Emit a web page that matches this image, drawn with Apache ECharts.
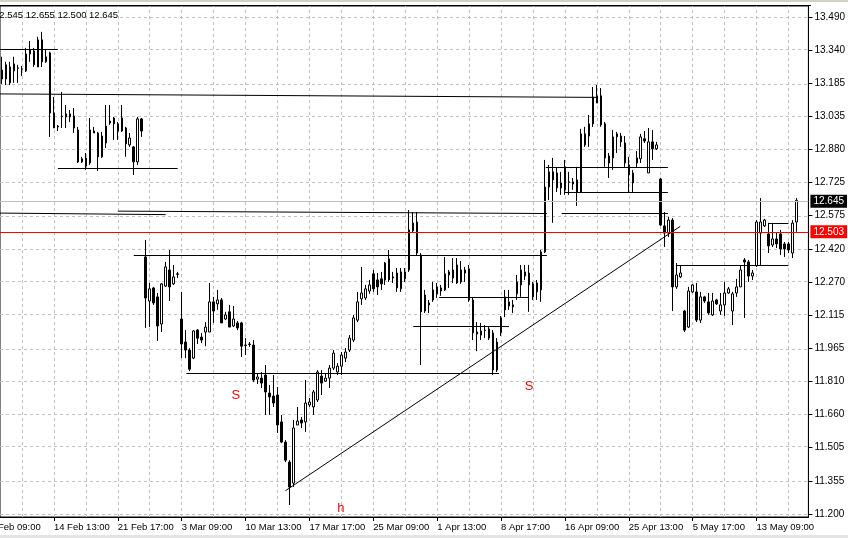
<!DOCTYPE html>
<html><head><meta charset="utf-8">
<script src="https://cdn.jsdelivr.net/npm/echarts@6/dist/echarts.min.js"></script>
<style>html,body{margin:0;padding:0;background:#fff;overflow:hidden}#c{width:848px;height:538px}</style>
</head><body><div id="c"></div>
<script>
// ---- data (H4 bars, left to right) ----
const open = [13.245,13.269,13.259,13.241,13.255,13.250,13.241,13.319,13.333,13.259,13.384,13.283,13.324,13.047,12.987,13.033,13.029,13.029,13.033,12.969,12.836,12.803,12.817,12.964,12.955,12.845,12.909,13.010,13.024,12.997,13.024,12.978,12.900,12.891,12.822,13.020,
12.384,12.181,12.241,12.200,12.075,12.250,12.324,12.260,12.306,
12.098,11.992,11.955,11.918,12.047,12.015,12.038,12.038,12.177,12.168,
12.186,12.098,12.131,12.066,12.080,12.080,11.978,11.983,11.978,11.821,
11.826,11.840,11.757,11.743,11.748,11.624,11.531,11.439,11.342,11.610,
11.633,11.624,11.702,11.693,11.725,11.835,11.812,11.826,11.872,11.854,
11.881,11.918,11.955,12.001,12.093,12.191,12.195,12.227,12.306,12.278,
12.283,12.278,12.375,12.292,12.310,12.237,12.315,12.324,12.504,12.545,
12.393,12.209,12.172,12.186,12.246,12.241,12.232,12.301,12.324,12.347,
12.269,12.324,12.329,12.186,12.038,12.024,12.047,12.010,12.034,11.863,
12.034,12.200,12.177,12.163,12.214,12.255,12.296,12.310,12.260,12.223,
12.232,12.407,12.706,12.776,12.771,12.725,12.799,12.730,12.720,12.739,
12.683,12.900,12.941,12.997,13.093,13.126,12.997,12.849,12.840,12.937,
12.941,12.909,12.808,12.771,12.840,12.836,12.928,12.771,12.914,12.882,
12.743,12.527,12.494,12.554,12.246,12.292,12.135,12.061,12.223,12.223,
12.093,12.200,12.177,12.117,12.186,12.135,12.163,12.218,12.135,12.218,
12.246,12.370,12.361,12.296,12.343,12.494,12.527,12.490,12.439,12.467,
12.490,12.444,12.444,12.402,12.545];
const close = [13.204,13.204,13.186,13.273,13.253,13.249,13.319,13.338,13.269,13.384,13.283,13.306,13.047,12.978,12.983,13.031,13.043,13.043,12.978,12.822,12.822,12.840,12.969,12.955,12.845,12.941,12.987,13.001,12.997,12.964,12.964,12.905,12.932,12.822,13.020,12.964,
12.195,12.237,12.172,12.066,12.260,12.338,12.246,12.292,12.304,
11.983,11.955,11.867,12.043,12.010,12.001,12.061,12.177,12.135,12.186,
12.080,12.117,12.061,12.098,12.057,11.973,11.976,11.981,11.817,11.831,
11.803,11.762,11.739,11.711,11.610,11.531,11.448,11.324,11.596,11.628,
11.619,11.711,11.716,11.762,11.854,11.803,11.826,11.872,11.941,11.881,
11.932,11.946,12.010,12.103,12.177,12.218,12.237,12.255,12.237,12.246,
12.260,12.356,12.278,12.287,12.241,12.315,12.283,12.508,12.540,12.402,
12.131,12.135,12.163,12.232,12.214,12.227,12.306,12.315,12.287,12.264,
12.324,12.310,12.186,12.034,12.029,12.043,12.045,12.052,11.863,11.992,
12.103,12.140,12.158,12.154,12.269,12.324,12.315,12.255,12.200,12.264,
12.407,12.706,12.776,12.739,12.702,12.702,12.693,12.728,12.730,12.683,
12.951,12.951,12.997,13.121,13.126,12.992,12.840,12.817,12.937,12.951,
12.914,12.817,12.762,12.725,12.817,12.937,12.918,12.914,12.882,12.900,
12.531,12.494,12.554,12.246,12.301,12.310,12.047,12.227,12.255,12.093,
12.200,12.181,12.126,12.181,12.168,12.163,12.218,12.237,12.214,12.246,
12.324,12.361,12.296,12.310,12.545,12.545,12.554,12.435,12.467,12.444,
12.421,12.421,12.416,12.540,12.645];
const low = [13.181,13.176,13.176,13.186,13.186,13.218,13.236,13.283,13.259,13.259,13.259,13.278,12.937,12.978,12.964,12.978,12.978,13.006,12.955,12.817,12.817,12.785,12.808,12.955,12.780,12.840,12.886,12.992,12.923,12.923,12.960,12.845,12.891,12.762,12.808,12.937,
12.057,12.061,12.163,11.997,12.038,12.246,12.181,12.255,12.287,
11.918,11.918,11.858,11.913,11.983,11.987,11.973,12.038,12.080,12.140,
12.080,12.093,12.061,12.061,12.047,11.923,11.932,11.969,11.808,11.799,
11.780,11.656,11.656,11.693,11.573,11.527,11.439,11.241,11.324,11.610,
11.596,11.578,11.693,11.656,11.716,11.748,11.808,11.780,11.863,11.840,
11.840,11.900,11.946,11.992,12.084,12.163,12.186,12.214,12.223,12.209,
12.232,12.255,12.269,12.264,12.223,12.223,12.269,12.315,12.494,12.393,
11.886,12.126,12.126,12.177,12.195,12.205,12.227,12.241,12.264,12.260,
12.260,12.269,12.177,12.001,11.950,12.001,12.010,12.001,11.840,11.854,
12.020,12.107,12.140,12.126,12.186,12.200,12.278,12.131,12.186,12.186,
12.177,12.402,12.646,12.541,12.683,12.670,12.670,12.670,12.693,12.619,
12.679,12.891,12.891,12.983,13.093,12.983,12.799,12.748,12.785,12.863,
12.891,12.799,12.683,12.683,12.794,12.817,12.909,12.771,12.831,12.877,
12.527,12.430,12.476,12.135,12.237,12.287,12.038,12.057,12.218,12.084,
12.080,12.172,12.117,12.112,12.163,12.117,12.112,12.214,12.070,12.200,
12.246,12.103,12.269,12.278,12.338,12.347,12.522,12.402,12.430,12.425,
12.393,12.384,12.402,12.379,12.500];
const high = [13.306,13.283,13.283,13.306,13.269,13.264,13.347,13.379,13.347,13.398,13.421,13.342,13.329,13.121,12.992,13.144,13.084,13.061,13.070,12.983,12.845,12.863,13.024,12.983,12.960,12.960,13.084,13.084,13.029,13.006,13.084,12.983,12.955,12.895,13.029,13.024,
12.462,12.264,12.246,12.218,12.264,12.361,12.416,12.347,12.315,
12.223,12.047,11.964,12.047,12.052,12.033,12.084,12.264,12.200,12.232,
12.195,12.131,12.163,12.158,12.089,12.085,12.010,11.992,12.001,11.849,
11.854,11.886,11.794,11.840,11.785,11.656,11.540,11.448,11.633,11.693,
11.647,11.817,11.734,11.771,11.863,11.863,11.849,11.886,11.955,11.895,
11.946,11.964,12.024,12.117,12.223,12.338,12.255,12.278,12.324,12.310,
12.315,12.361,12.416,12.315,12.333,12.333,12.333,12.600,12.591,12.591,
12.402,12.232,12.186,12.269,12.264,12.255,12.384,12.324,12.379,12.379,
12.365,12.338,12.347,12.195,12.084,12.080,12.070,12.066,12.047,12.010,
12.112,12.232,12.232,12.186,12.301,12.347,12.347,12.347,12.269,12.278,
12.416,12.831,12.808,12.840,12.794,12.776,12.831,12.776,12.748,12.799,
12.974,12.983,13.038,13.167,13.176,13.162,13.006,12.863,12.969,12.960,
12.955,12.941,12.845,12.785,12.872,12.951,12.964,12.978,12.969,12.914,
12.748,12.591,12.568,12.563,12.356,12.347,12.140,12.246,12.260,12.264,
12.223,12.205,12.218,12.218,12.191,12.218,12.269,12.246,12.223,12.283,
12.347,12.379,12.370,12.324,12.554,12.655,12.559,12.541,12.541,12.499,
12.508,12.453,12.453,12.554,12.655];

// x-axis tick labels and the bar they sit on (bar 0 = first visible candle)
const xTickBars = [-3,13,29,45,61,77,93,109,125,141,157,173,189];
const xTickLabels = ['7 Feb 09:00','14 Feb 13:00','21 Feb 17:00','3 Mar 09:00','10 Mar 13:00','17 Mar 17:00','25 Mar 09:00','1 Apr 13:00','8 Apr 17:00','16 Apr 09:00','25 Apr 13:00','5 May 17:00','13 May 09:00'];
// y-axis tick labels, bottom to top
const yTickLabels = ['11.200','11.355','11.505','11.660','11.810','11.965','12.115','12.270','12.420','12.575','12.725','12.880','13.035','13.185','13.340','13.490'];
const bidPrice = 12.645;
const levelPrice = 12.503;
// drawn objects: [startBar, startPrice, endBar, endPrice]
const drawnLines = [
 [-0.5,13.341,14,13.341],
 [-0.5,13.135,148.8,13.119],
 [14,12.793,44,12.793],
 [-0.5,12.586,41,12.579],
 [29,12.595,136.5,12.584],
 [140.2,12.585,166.8,12.585],
 [33,12.391,136.5,12.391],
 [46.2,11.848,124.5,11.848],
 [109.5,12.197,132,12.197],
 [103,12.066,127,12.066],
 [136.2,12.796,166.8,12.796],
 [141,12.682,166.8,12.682],
 [192,12.540,197,12.540],
 [168.8,12.345,197,12.345],
 [71,11.307,169.9,12.525]
];
const notes = [['S',58.6,11.748],['S',132,11.789],['h',84.9,11.227]];

// ---- build ----
const X_MIN = -0.5, X_MAX = 202;
const yMin = 11.186, yMax = 13.540;
const yStep = (13.490 - 11.200) / (yTickLabels.length - 1);
const yTickValues = yTickLabels.map((t, k) => 11.2 + k * yStep);
const candles = open.map((o, i) => [i, o, close[i], low[i], high[i]]);
const tickMap = {};
xTickBars.forEach((b, j) => tickMap[b] = xTickLabels[j]);
const visibleTicks = xTickBars.filter(b => b >= X_MIN && b <= X_MAX);
const gridBars = [];
for (let b = 5; b <= X_MAX; b += 8) gridBars.push(b);
const FONT = 'Liberation Sans';
const last = open.length - 1;

const chart = echarts.init(document.getElementById('c'), null, {renderer: 'canvas'});
chart.setOption({
  animation: false,
  backgroundColor: '#ffffff',
  grid: {left: 0, right: 38, top: 6, bottom: 21, show: true, borderColor: '#000', borderWidth: 1, backgroundColor: 'transparent'},
  xAxis: {
    type: 'value', min: X_MIN, max: X_MAX,
    axisLine: {show: true, onZero: false, lineStyle: {color: '#000', width: 1}},
    axisTick: {show: true, length: 4, customValues: visibleTicks, lineStyle: {color: '#000'}},
    axisLabel: {show: true, customValues: visibleTicks,
      formatter: (v) => tickMap[Math.round(v)] || '', align: 'left', margin: 5,
      color: '#000', fontFamily: FONT, fontSize: 9.5},
    splitLine: {show: false}
  },
  yAxis: {
    type: 'value', position: 'right', min: yMin, max: yMax,
    axisLine: {show: true, onZero: false, lineStyle: {color: '#000', width: 1}},
    axisTick: {show: true, length: 4, customValues: yTickValues, lineStyle: {color: '#000'}},
    axisLabel: {show: true, customValues: yTickValues, margin: 6,
      formatter: (v) => yTickLabels[Math.round((v - 11.2) / yStep)],
      color: '#000', fontFamily: FONT, fontSize: 10},
    splitLine: {show: false}
  },
  series: [
    {type: 'line', data: [], z: 1, silent: true,
     markLine: {silent: true, symbol: ['none','none'], animation: false, z: 1,
       label: {show: false},
       lineStyle: {color: '#c0c0c0', type: [3,3], width: 1},
       data: yTickValues.map(v => ({yAxis: v})).concat(gridBars.map(b => ({xAxis: b})))}},
    {type: 'candlestick', data: candles, encode: {x: 0, y: [1,2,3,4]}, z: 2, barWidth: 2,
     itemStyle: {color: '#ffffff', color0: '#000000', borderColor: '#000000', borderColor0: '#000000', borderWidth: 1},
     markPoint: {symbol: 'rect', symbolSize: 1, itemStyle: {color: 'rgba(0,0,0,0)'}, animation: false,
       label: {show: true, position: 'inside', formatter: '{b}', color: '#ff0000', fontFamily: FONT, fontSize: 13},
       data: notes.map(n => ({name: n[0], coord: [n[1], n[2]]}))}},
    {type: 'line', data: [], z: 3, silent: true,
     markLine: {silent: true, symbol: ['none','none'], animation: false, z: 5,
       label: {show: false},
       lineStyle: {color: '#000', type: 'solid', width: 1},
       data: drawnLines.map(l => [{coord: [l[0], l[1]]}, {coord: [l[2], l[3]]}]).concat([
         {yAxis: bidPrice, lineStyle: {color: '#c0c0c0', type: 'solid', width: 1},
          label: {show: true, position: 'end', distance: 2, formatter: bidPrice.toFixed(3), backgroundColor: '#000', color: '#fff', padding: [2,3,1,3], fontFamily: FONT, fontSize: 10}},
         {yAxis: levelPrice, lineStyle: {color: '#ff0000', type: 'solid', width: 1},
          label: {show: true, position: 'end', distance: 2, formatter: levelPrice.toFixed(3), backgroundColor: '#ff0000', color: '#fff', padding: [2,3,1,3], fontFamily: FONT, fontSize: 10}}
       ])}}
  ]
});

// labels that sit left of the visible range, placed through the axis scale
const gr = [
  {type: 'text', x: -6, y: 10, z: 100,
   style: {text: [open[last], high[last], low[last], close[last]].map(v => v.toFixed(3)).join(' '),
           fill: '#000', font: '9.5px "Liberation Sans"', textVerticalAlign: 'top'}},
  {type: 'rect', shape: {x: 0, y: 0, width: 848, height: 2}, style: {fill: '#d4d0c8'}, z: 100},
  {type: 'line', shape: {x1: 0, y1: 5.5, x2: 811, y2: 5.5}, style: {stroke: '#000', lineWidth: 1}, z: 100},
  {type: 'rect', shape: {x: 0, y: 535, width: 848, height: 3}, style: {fill: '#e4e4e4'}, z: 100}
];
xTickBars.filter(b => b < X_MIN).forEach(b => {
  const px = chart.convertToPixel({xAxisIndex: 0}, b);
  gr.push({type: 'text', x: px, y: 522, z: 100,
    style: {text: tickMap[b], fill: '#000', font: '9.5px "Liberation Sans"', textVerticalAlign: 'top', textAlign: 'left'}});
  gr.push({type: 'line', shape: {x1: px, y1: 517, x2: px, y2: 521}, style: {stroke: '#000'}, z: 100});
});
chart.setOption({graphic: gr});
</script>
</body></html>
